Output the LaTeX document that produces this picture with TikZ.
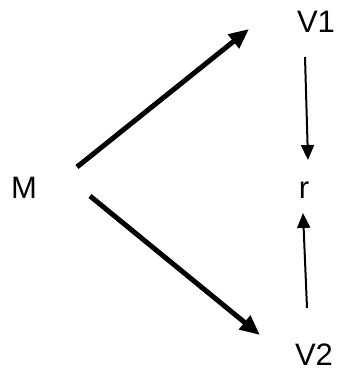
\documentclass[tikz,border=0pt]{standalone}
\usepackage{fontspec}
\setmainfont{Liberation Sans}
\usepackage{tikz}
\usetikzlibrary{arrows.meta}

\begin{document}
\begin{tikzpicture}[x=1pt, y=1pt,
    lbl/.style={anchor=base, inner sep=0pt, font=\fontsize{31}{36}\selectfont},
    fat_arrow/.style={-{Triangle[length=20pt, width=17pt]}, line width=5pt},
    thin_arrow/.style={-{Triangle[length=15pt, width=13pt]}, line width=2pt}
]
    \useasboundingbox (0,0) rectangle (337,372);

    % labels
    \node[lbl] (m) at (24, 173) {M};
    \node[lbl] (v1) at (316, 339) {V1};
    \node[lbl] (r) at (304, 173) {r};
    \node[lbl] (v2) at (314, 6) {V2};

    % arrow ends
    \coordinate (m_up) at (77, 205);
    \coordinate (v1_in) at (249, 343);
    \coordinate (m_down) at (90, 176);
    \coordinate (v2_in) at (260, 37);
    \coordinate (v1_out) at (305, 315);
    \coordinate (r_top) at (308, 212);
    \coordinate (v2_out) at (307, 64);
    \coordinate (r_bot) at (303, 159);

    \draw[fat_arrow] (m_up) -- (v1_in);
    \draw[fat_arrow] (m_down) -- (v2_in);
    \draw[thin_arrow] (v1_out) -- (r_top);
    \draw[thin_arrow] (v2_out) -- (r_bot);

\end{tikzpicture}
\end{document}
